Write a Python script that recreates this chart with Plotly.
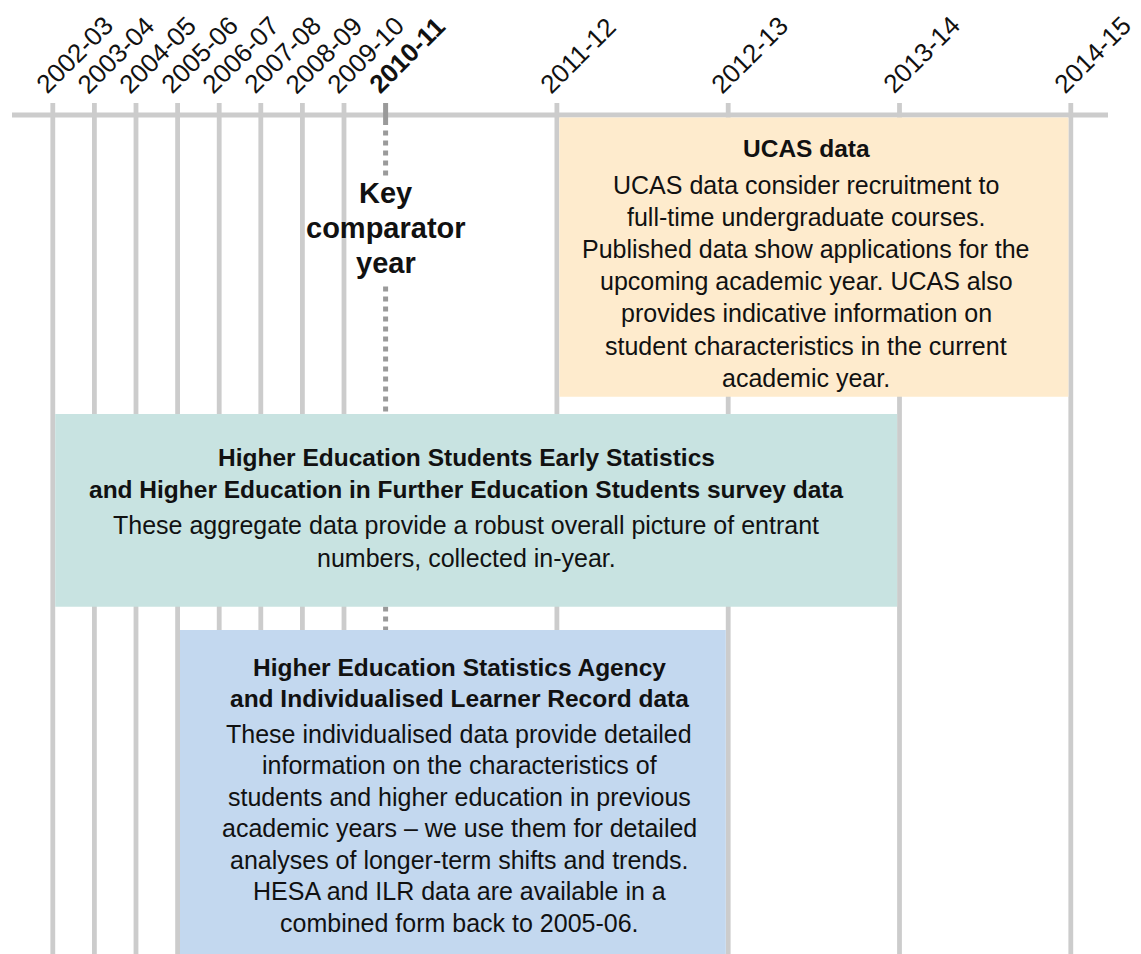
import plotly.graph_objects as go

W, H = 1141, 954

# ---------------- data ----------------
years = ['2002-03', '2003-04', '2004-05', '2005-06', '2006-07', '2007-08', '2008-09',
         '2009-10', '2010-11', '2011-12', '2012-13', '2013-14', '2014-15']
key_year = '2010-11'
key_label = ['Key', 'comparator', 'year']

source_start = ['2011-12', '2002-03', '2005-06']
source_end = ['2014-15', '2013-14', '2012-13']
source_titles = [
    ['UCAS data'],
    ['Higher Education Students Early Statistics',
     'and Higher Education in Further Education Students survey data'],
    ['Higher Education Statistics Agency',
     'and Individualised Learner Record data'],
]
source_bodies = [
    ['UCAS data consider recruitment to',
     'full-time undergraduate courses.',
     'Published data show applications for the',
     'upcoming academic year. UCAS also',
     'provides indicative information on',
     'student characteristics in the current',
     'academic year.'],
    ['These aggregate data provide a robust overall picture of entrant',
     'numbers, collected in-year.'],
    ['These individualised data provide detailed',
     'information on the characteristics of',
     'students and higher education in previous',
     'academic years \u2013 we use them for detailed',
     'analyses of longer-term shifts and trends.',
     'HESA and ILR data are available in a',
     'combined form back to 2005-06.'],
]

# ---------------- styles / layout ----------------
FONT = 'Liberation Sans, Arial, Helvetica, sans-serif'
TXT = '#111111'
GRID = '#CCCCCC'
KEYC = '#9A9A9A'
box_colors = ['#FEEBCD', '#C8E3E1', '#C3D8EF']
box_y = [(117.5, 396.7), (414.0, 606.7), (630.0, 960.0)]
text_x_px = [806, 466, 459]
title_first_y = [148.0, 457.0, 667.0]
body_first_y = [184.5, 525.0, 733.8]
title_gap = [32.0, 32.0, 31.8]
body_gap = [32.2, 33.0, 31.5]

# timeline scale: years up to the key year are compressed
ORIGIN_PX = 52.8
EARLY_PX = 41.6
LATE_PX = 171.3
key_idx = years.index(key_year)


def t_of(year):
    i = years.index(year)
    if i <= key_idx:
        return float(i)
    return key_idx + (i - key_idx) * LATE_PX / EARLY_PX


def t_from_px(px):
    return (px - ORIGIN_PX) / EARLY_PX


def px(d):
    return d / EARLY_PX


fig = go.Figure()

# vertical year lines (except key year)
vx, vy = [], []
for yr in years:
    if yr == key_year:
        continue
    t = t_of(yr)
    vx += [t, t, None]
    vy += [103, H, None]
fig.add_trace(go.Scatter(x=vx, y=vy, mode='lines',
                         line=dict(color=GRID, width=4.8), hoverinfo='skip'))

# horizontal timeline
fig.add_trace(go.Scatter(x=[t_from_px(12), t_from_px(1108)], y=[115, 115], mode='lines',
                         line=dict(color=GRID, width=5), hoverinfo='skip'))

# key year marker
tk = t_of(key_year)
fig.add_trace(go.Scatter(x=[tk, tk], y=[103, 125], mode='lines',
                         line=dict(color=KEYC, width=5), hoverinfo='skip'))
fig.add_trace(go.Scatter(x=[tk, tk, None, tk, tk], y=[130.5, 176, None, 286.5, 632],
                         mode='lines', line=dict(color=KEYC, width=5, dash='dot'),
                         hoverinfo='skip'))

# source boxes
for i in range(len(source_start)):
    fig.add_shape(type='rect', xref='x', yref='y',
                  x0=t_of(source_start[i]) + px(2.4), x1=t_of(source_end[i]) - px(2.4),
                  y0=box_y[i][0], y1=box_y[i][1],
                  fillcolor=box_colors[i], line=dict(width=0), layer='above')

annotations = []

# year labels (rotated)
for yr in years:
    lab = '<b>%s</b>' % yr if yr == key_year else yr
    annotations.append(dict(x=t_of(yr), y=55.0, xref='x', yref='y', xshift=21.5,
                            text=lab, textangle=-45, showarrow=False,
                            xanchor='center', yanchor='middle',
                            font=dict(family=FONT, size=26, color=TXT)))


def add_lines(lines, x_px, y0, gap, size, bold):
    for k, line in enumerate(lines):
        annotations.append(dict(x=t_from_px(x_px), y=y0 + k * gap, xref='x', yref='y',
                                text=('<b>%s</b>' % line) if bold else line,
                                showarrow=False, xanchor='center', yanchor='middle',
                                font=dict(family=FONT, size=size, color=TXT)))


add_lines(key_label, 385.6, 193.3, 34.7, 29, True)
for i in range(len(source_titles)):
    add_lines(source_titles[i], text_x_px[i], title_first_y[i], title_gap[i], 24.5, True)
    add_lines(source_bodies[i], text_x_px[i], body_first_y[i], body_gap[i], 25, False)

fig.update_layout(
    width=W, height=H,
    margin=dict(l=0, r=0, t=0, b=0, pad=0),
    paper_bgcolor='white', plot_bgcolor='white',
    showlegend=False,
    xaxis=dict(visible=False, range=[t_from_px(0), t_from_px(W)], fixedrange=True),
    yaxis=dict(visible=False, range=[H, 0], fixedrange=True),
    annotations=annotations,
)

fig.write_html('out.html', config=dict(displayModeBar=False),
               post_script="document.body.style.margin='0px';"
                           "document.body.style.overflow='hidden';")
